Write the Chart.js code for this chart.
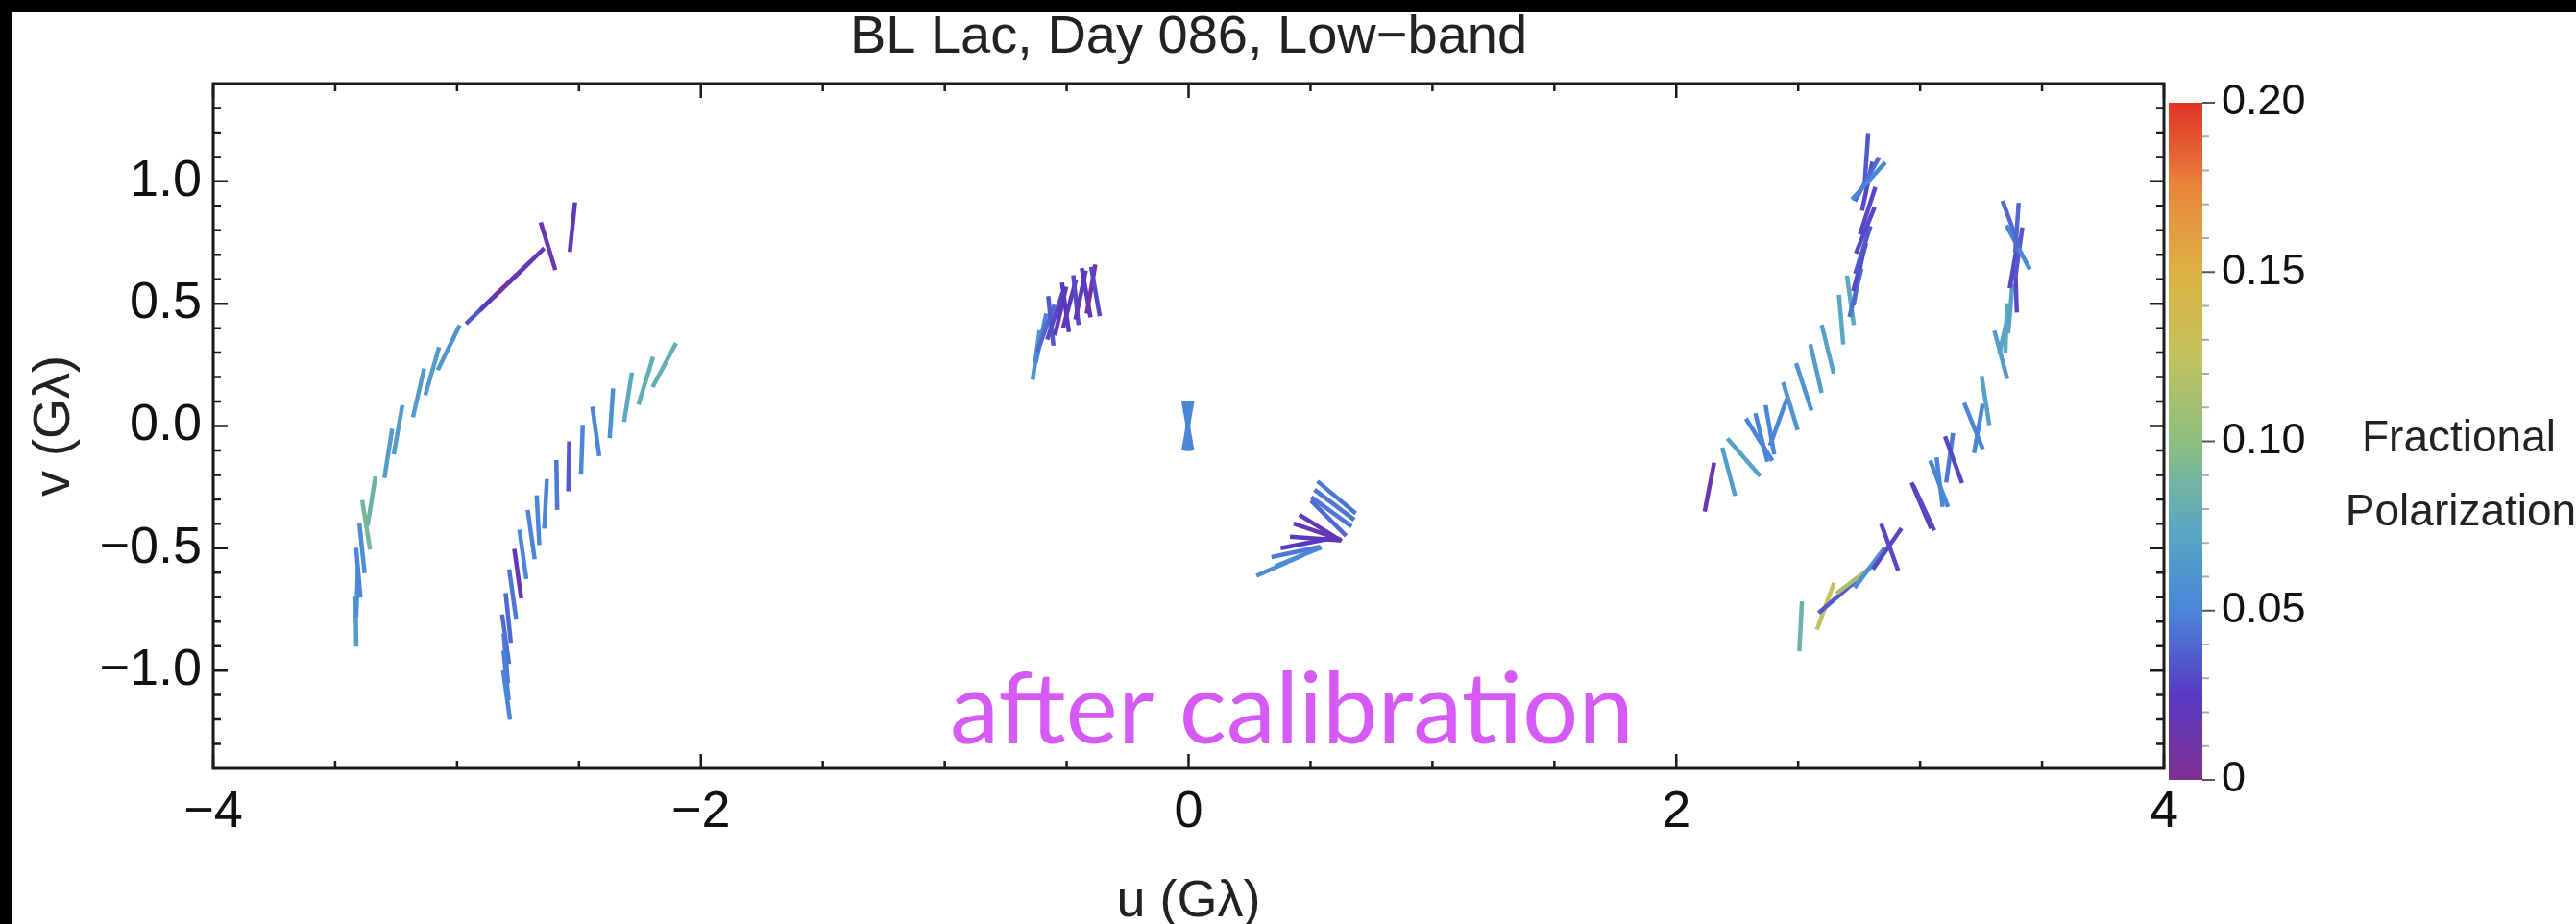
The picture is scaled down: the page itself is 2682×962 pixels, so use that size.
<!DOCTYPE html>
<html>
<head>
<meta charset="utf-8">
<script src="https://cdn.jsdelivr.net/npm/chart.js@4.4.1/dist/chart.umd.min.js"></script>
<style>
  html, body { margin: 0; padding: 0; width: 2682px; height: 962px; overflow: hidden; background: #000; }
  #paper { position: absolute; left: 12px; top: 12px; right: 0; bottom: 0; background: #fff; }
  canvas { position: absolute; }
  #uv { left: 0; top: 0; }
  #cbar { left: 2258px; top: 87px; }
</style>
</head>
<body>
<div id="paper"></div>
<canvas id="uv" width="2682" height="962"></canvas>
<canvas id="cbar" width="200" height="745"></canvas>
<script>
// Polarization ticks along each (u,v) track: [u, v, angle in deg from +u toward +v, fractional pol]
const arcWestOuter = [
  [-3.415, -0.80, 91, 0.065],
  [-3.410, -0.68, 88, 0.055],
  [-3.405, -0.60, 95, 0.050],
  [-3.390, -0.50, 96, 0.055],
  [-3.373, -0.404, 99, 0.090],
  [-3.351, -0.307, 81, 0.085],
  [-3.282, -0.112, 81, 0.065],
  [-3.242, -0.016, 80, 0.065],
  [-3.158, 0.135, 77, 0.065],
  [-3.102, 0.224, 74, 0.065],
  [-3.034, 0.321, 64, 0.060],
  [-2.890, 0.489, 44, 0.035],
  [-2.832, 0.545, 44, 0.025],
  [-2.774, 0.600, 44, 0.006],
  [-2.716, 0.656, 44, 0.018],
  [-2.627, 0.735, 107, 0.015],
  [-2.527, 0.813, 84, 0.020]
];
const arcWestInner = [
  [-2.150, 0.249, 62, 0.080],
  [-2.226, 0.185, 73, 0.080],
  [-2.299, 0.118, 81, 0.075],
  [-2.367, 0.052, 86, 0.055],
  [-2.431, -0.022, 98, 0.050],
  [-2.488, -0.097, 88, 0.050],
  [-2.542, -0.165, 89, 0.035],
  [-2.591, -0.241, 91, 0.045],
  [-2.637, -0.318, 87, 0.050],
  [-2.668, -0.385, 93, 0.050],
  [-2.696, -0.444, 98, 0.050],
  [-2.730, -0.525, 98, 0.050],
  [-2.751, -0.604, 98, 0.018],
  [-2.772, -0.687, 98, 0.045],
  [-2.790, -0.785, 96, 0.040],
  [-2.801, -0.872, 98, 0.042],
  [-2.800, -0.950, 95, 0.045],
  [-2.799, -1.020, 96, 0.048],
  [-2.797, -1.100, 98, 0.050]
];
const northCentral = [
  [-0.625, 0.290, 82, 0.060],
  [-0.605, 0.360, 78, 0.050],
  [-0.585, 0.400, 70, 0.040],
  [-0.565, 0.430, 96, 0.035],
  [-0.548, 0.450, 72, 0.030],
  [-0.525, 0.470, 77, 0.020],
  [-0.505, 0.485, 98, 0.025],
  [-0.488, 0.500, 75, 0.020],
  [-0.462, 0.515, 96, 0.030],
  [-0.443, 0.535, 78, 0.020],
  [-0.420, 0.545, 100, 0.025],
  [-0.400, 0.560, 80, 0.010],
  [-0.382, 0.550, 100, 0.030]
];
const originTrack = [
  [-0.003, 0.000, 80, 0.050],
  [-0.003, 0.000, 85, 0.055],
  [-0.003, 0.000, 90, 0.050],
  [-0.003, 0.000, 95, 0.055],
  [-0.003, 0.000, 100, 0.050]
];
const southCentral = [
  [0.607, -0.292, -40, 0.045],
  [0.598, -0.322, -37, 0.045],
  [0.586, -0.351, -36, 0.045],
  [0.574, -0.377, -45, 0.040],
  [0.541, -0.417, -32, 0.020],
  [0.528, -0.432, -19, 0.015],
  [0.518, -0.460, -4, 0.020],
  [0.478, -0.480, 11, 0.025],
  [0.440, -0.515, 12, 0.045],
  [0.450, -0.535, 22, 0.050],
  [0.372, -0.571, 24, 0.055]
];
const arcEastInner = [
  [2.136, -0.250, 79, 0.015],
  [2.215, -0.187, 105, 0.065],
  [2.277, -0.128, 131, 0.070],
  [2.340, -0.056, 122, 0.050],
  [2.349, -0.047, 104, 0.050],
  [2.384, -0.016, 100, 0.050],
  [2.419, 0.016, 70, 0.050],
  [2.468, 0.081, 107, 0.060],
  [2.523, 0.160, 108, 0.060],
  [2.573, 0.235, 103, 0.065],
  [2.621, 0.314, 104, 0.070],
  [2.676, 0.435, 95, 0.075],
  [2.714, 0.514, 98, 0.075],
  [2.735, 0.545, 76, 0.045],
  [2.745, 0.595, 80, 0.040],
  [2.752, 0.650, 75, 0.030],
  [2.765, 0.720, 72, 0.035],
  [2.775, 0.800, 68, 0.030],
  [2.785, 0.880, 72, 0.030],
  [2.783, 0.980, 78, 0.030],
  [2.780, 1.096, 86, 0.035],
  [2.782, 1.009, 61, 0.040],
  [2.789, 1.002, 48, 0.050]
];
const arcEastOuter = [
  [2.510, -0.819, 87, 0.085],
  [2.612, -0.737, 70, 0.125],
  [2.661, -0.698, 41, 0.035],
  [2.739, -0.623, 37, 0.110],
  [2.793, -0.580, 53, 0.055],
  [2.865, -0.502, 55, 0.030],
  [2.875, -0.495, 110, 0.030],
  [3.005, -0.325, 113, 0.020],
  [3.015, -0.335, 115, 0.030],
  [3.080, -0.230, 97, 0.050],
  [3.078, -0.236, 111, 0.050],
  [3.121, -0.130, 82, 0.045],
  [3.137, -0.138, 110, 0.030],
  [3.219, 0.000, 112, 0.050],
  [3.239, -0.010, 80, 0.050],
  [3.268, 0.104, 99, 0.070],
  [3.331, 0.291, 105, 0.065],
  [3.347, 0.393, 77, 0.070],
  [3.353, 0.400, 88, 0.075],
  [3.370, 0.480, 85, 0.070],
  [3.393, 0.566, 92, 0.030],
  [3.385, 0.664, 80, 0.030],
  [3.405, 0.711, 82, 0.035],
  [3.402, 0.730, 118, 0.050],
  [3.397, 0.811, 86, 0.040],
  [3.373, 0.825, 110, 0.040]
];

const tracks = [arcWestOuter, arcWestInner, northCentral, originTrack, southCentral, arcEastInner, arcEastOuter];

const xTickValues = [-4, -2, 0, 2, 4];
const xTickLabels = ['−4', '−2', '0', '2', '4'];
const yTickValues = [-1, -0.5, 0, 0.5, 1];
const yTickLabels = ['−1.0', '−0.5', '0.0', '0.5', '1.0'];
const cbTickValues = [0, 0.05, 0.1, 0.15, 0.2];
const cbTickLabels = ['0', '0.05', '0.10', '0.15', '0.20'];

// colour scale for fractional polarization (0 .. 0.20)
const polColors = [
  [0.000, [128, 48, 146]],
  [0.025, [88, 58, 194]],
  [0.050, [74, 134, 216]],
  [0.075, [90, 168, 194]],
  [0.100, [140, 191, 128]],
  [0.125, [195, 194, 92]],
  [0.150, [221, 178, 68]],
  [0.175, [232, 133, 59]],
  [0.200, [223, 50, 38]]
];
const POL_MAX = 0.2;

const FONT = "'Liberation Sans', Arial, Helvetica, sans-serif";
const INK = '#1a1a1a';

function polColor(m) {
  const t = Math.max(0, Math.min(POL_MAX, m));
  for (let i = 1; i < polColors.length; i++) {
    const [m0, c0] = polColors[i - 1];
    const [m1, c1] = polColors[i];
    if (t <= m1) {
      const f = (t - m0) / (m1 - m0);
      const c = c0.map((v, k) => Math.round(v + (c1[k] - v) * f));
      return `rgb(${c[0]}, ${c[1]}, ${c[2]})`;
    }
  }
  const c = polColors[polColors.length - 1][1];
  return `rgb(${c[0]}, ${c[1]}, ${c[2]})`;
}

function fixedTicks(values) {
  return scale => { scale.ticks = values.map(v => ({ value: v })); };
}

const framePlugin = {
  id: 'frame',
  afterDraw(chart) {
    const { ctx, chartArea: a, scales: { x, y } } = chart;
    ctx.save();

    // box
    ctx.strokeStyle = INK;
    ctx.lineWidth = 3;
    ctx.strokeRect(a.left, a.top, a.right - a.left, a.bottom - a.top);

    // inward tick marks on all four sides
    ctx.lineWidth = 2.5;
    ctx.beginPath();
    for (let k = -8; k <= 8; k++) {
      const px = x.getPixelForValue(k / 2);
      const len = k % 4 === 0 ? 15 : 8;
      ctx.moveTo(px, a.bottom); ctx.lineTo(px, a.bottom - len);
      ctx.moveTo(px, a.top); ctx.lineTo(px, a.top + len);
    }
    for (let k = -13; k <= 13; k++) {
      const py = y.getPixelForValue(k / 10);
      const len = k % 5 === 0 ? 15 : 8;
      ctx.moveTo(a.left, py); ctx.lineTo(a.left + len, py);
      ctx.moveTo(a.right, py); ctx.lineTo(a.right - len, py);
    }
    ctx.stroke();

    const midX = (a.left + a.right) / 2;
    const midY = (a.top + a.bottom) / 2;
    ctx.fillStyle = '#222';
    ctx.textAlign = 'center';

    // title
    ctx.font = `56px ${FONT}`;
    ctx.textBaseline = 'middle';
    ctx.fillText('BL Lac, Day 086, Low−band', midX, 40);

    // axis titles
    ctx.font = `54px ${FONT}`;
    ctx.fillText('u (Gλ)', midX, 939);
    ctx.save();
    ctx.translate(72, midY);
    ctx.rotate(-Math.PI / 2);
    ctx.textBaseline = 'alphabetic';
    ctx.fillText('v (Gλ)', 0, 0);
    ctx.restore();

    // colour bar legend
    ctx.font = `46px ${FONT}`;
    ctx.fillText('Fractional', 2560, 457);
    ctx.fillText('Polarization', 2562, 534);

    // overlay note
    ctx.font = `100px Lato, 'Open Sans', sans-serif`;
    const w = ctx.measureText('after calibration').width;
    const size = 100 * 712 / w;
    ctx.font = `${size}px Lato, 'Open Sans', sans-serif`;
    ctx.fillStyle = '#d65bf6';
    ctx.textAlign = 'left';
    ctx.textBaseline = 'alphabetic';
    ctx.fillText('after calibration', 989, 774);

    ctx.restore();
  }
};

new Chart(document.getElementById('uv'), {
  type: 'scatter',
  data: {
    datasets: tracks.map(rows => ({
      data: rows.map(([u, v, a, m]) => ({ x: u, y: v, a, m })),
      pointStyle: 'line',
      pointRadius: 26,
      pointHoverRadius: 26,
      pointBorderWidth: 4.5,
      pointHoverBorderWidth: 4.5,
      pointRotation: ctx => (ctx.raw ? -ctx.raw.a : 0),
      pointBorderColor: ctx => (ctx.raw ? polColor(ctx.raw.m) : '#000'),
      pointBackgroundColor: 'transparent'
    }))
  },
  options: {
    responsive: false,
    animation: false,
    devicePixelRatio: 1,
    events: [],
    layout: { padding: { top: 87, right: 429, left: 0, bottom: 0 } },
    plugins: { legend: { display: false }, tooltip: { enabled: false } },
    scales: {
      x: {
        type: 'linear', min: -4, max: 4,
        afterBuildTicks: fixedTicks(xTickValues),
        afterFit: s => { s.height = 162; },
        grid: { display: false, drawTicks: false },
        border: { display: false },
        ticks: {
          callback: (v, i) => xTickLabels[i],
          font: { family: FONT, size: 54 },
          color: '#111', padding: 14, maxRotation: 0, autoSkip: false
        }
      },
      y: {
        type: 'linear', min: -1.4, max: 1.4,
        afterBuildTicks: fixedTicks(yTickValues),
        afterFit: s => { s.width = 222; },
        grid: { display: false, drawTicks: false },
        border: { display: false },
        ticks: {
          callback: (v, i) => yTickLabels[i],
          font: { family: FONT, size: 54 },
          color: '#111', padding: 12, autoSkip: false
        }
      }
    }
  },
  plugins: [framePlugin]
});

const cbarTicksPlugin = {
  id: 'cbarTicks',
  afterDraw(chart) {
    const { ctx, chartArea: a, scales: { y } } = chart;
    ctx.save();
    for (let k = 0; k <= 20; k++) {
      const py = y.getPixelForValue(k / 100);
      const major = k % 5 === 0;
      ctx.strokeStyle = major ? '#555' : '#aaa';
      ctx.lineWidth = 2;
      ctx.beginPath();
      ctx.moveTo(a.right, py);
      ctx.lineTo(a.right + (major ? 13 : 7), py);
      ctx.stroke();
    }
    ctx.restore();
  }
};

new Chart(document.getElementById('cbar'), {
  type: 'bar',
  data: {
    labels: ['pol'],
    datasets: [{
      data: [[0, POL_MAX]],
      barPercentage: 1,
      categoryPercentage: 1,
      borderWidth: 0,
      backgroundColor: ctx => {
        const { chart } = ctx;
        const y = chart.scales.y;
        if (!chart.chartArea || !y) return 'transparent';
        const g = chart.ctx.createLinearGradient(0, y.getPixelForValue(0), 0, y.getPixelForValue(POL_MAX));
        polColors.forEach(([m, c]) => g.addColorStop(m / POL_MAX, `rgb(${c[0]}, ${c[1]}, ${c[2]})`));
        return g;
      }
    }]
  },
  options: {
    responsive: false,
    animation: false,
    devicePixelRatio: 1,
    events: [],
    layout: { padding: { top: 20, bottom: 20, left: 0, right: 0 } },
    plugins: { legend: { display: false }, tooltip: { enabled: false } },
    scales: {
      x: { display: false },
      y: {
        position: 'right', min: 0, max: POL_MAX,
        afterBuildTicks: fixedTicks(cbTickValues),
        afterFit: s => { s.width = 165; s.paddingTop = 0; s.paddingBottom = 0; },
        grid: { display: false, drawTicks: false },
        border: { display: false },
        ticks: {
          callback: (v, i) => cbTickLabels[i],
          font: { family: FONT, size: 45 },
          color: '#111', padding: 20, autoSkip: false
        }
      }
    }
  },
  plugins: [cbarTicksPlugin]
});
</script>
</body>
</html>
